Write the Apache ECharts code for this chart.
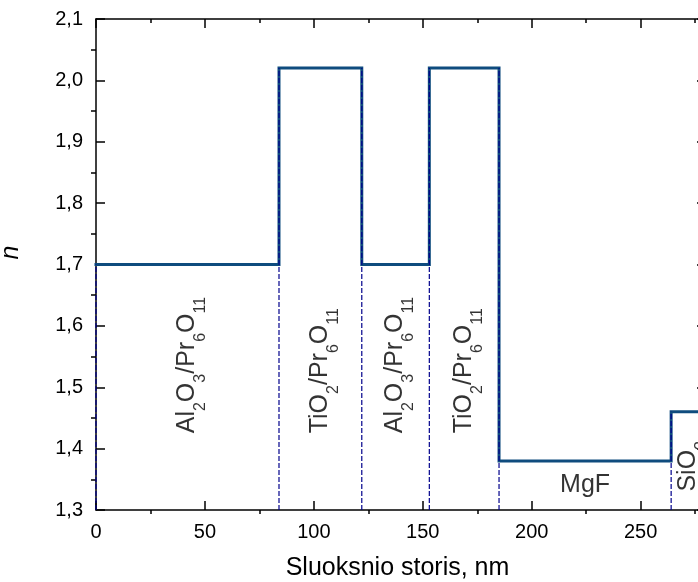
<!DOCTYPE html>
<html>
<head>
<meta charset="utf-8">
<script src="https://cdn.jsdelivr.net/npm/echarts@6/dist/echarts.min.js"></script>
<style>
  html, body { margin: 0; padding: 0; background: #fff; }
  #chart { width: 698px; height: 582px; }
</style>
</head>
<body>
<div id="chart"></div>
<script>
// Layer boundaries along the stack (nm) and refractive index of each layer
var boundaries = [0, 84, 122, 153, 185, 264, 280];
var levels = [1.70, 2.02, 1.70, 2.02, 1.38, 1.46];

// Layer captions (rich-text markup for subscripts)
var layerNames = [
  '{m|Al}{s|2}{m|O}{s|3}{m|/Pr}{s|6}{m|O}{s|11}',
  '{m|TiO}{s|2}{m|/Pr}{s|6}{m|O}{s|11}',
  '{m|Al}{s|2}{m|O}{s|3}{m|/Pr}{s|6}{m|O}{s|11}',
  '{m|TiO}{s|2}{m|/Pr}{s|6}{m|O}{s|11}',
  '{m|MgF}',
  '{m|SiO}{s|2}'
];
// Index level at which each caption starts, and whether it is written upright
var labelLevels = [1.425, 1.425, 1.425, 1.425, 1.34, 1.33];
var labelVertical = [true, true, true, true, false, true];

// Axis ticks
var xMajorTicks = [0, 50, 100, 150, 200, 250];
var xMinorTicks = [25, 75, 125, 175, 225, 275];
var yMajorTicks = [1.3, 1.4, 1.5, 1.6, 1.7, 1.8, 1.9, 2.0, 2.1];
var yMinorTicks = [1.35, 1.45, 1.55, 1.65, 1.75, 1.85, 1.95, 2.05];

(function () {
  var FONT = "'Liberation Sans', Arial, sans-serif";
  var LINE_COLOR = '#0f4c7e';
  var DASH_COLOR = '#00008b';
  var X_MIN = 0, X_MAX = 280, Y_MIN = 1.3, Y_MAX = 2.1;

  // Step profile points: each level holds from its boundary to the next one
  var stepData = [];
  for (var i = 0; i < levels.length; i++) stepData.push([boundaries[i], levels[i]]);
  stepData.push([boundaries[boundaries.length - 1], levels[levels.length - 1]]);

  // Dashed guides from the bottom axis up each interface
  var guideSeries = [];
  for (var j = 0; j < levels.length; j++) {
    var upper = j === 0 ? levels[0] : Math.max(levels[j - 1], levels[j]);
    guideSeries.push({
      type: 'line',
      data: [[boundaries[j], Y_MIN], [boundaries[j], upper]],
      symbol: 'none',
      silent: true,
      z: 5,
      lineStyle: { color: DASH_COLOR, width: 1.2, type: [5, 2] }
    });
  }

  // Caption anchors at layer centres
  var captionData = [];
  for (var k = 0; k < levels.length; k++) {
    var mid = (boundaries[k] + boundaries[k + 1]) / 2;
    var vertical = labelVertical[k];
    captionData.push({
      value: [mid, labelLevels[k]],
      label: {
        show: true,
        formatter: layerNames[k],
        position: 'inside',
        rotate: vertical ? 90 : 0,
        align: vertical ? 'left' : 'center',
        verticalAlign: 'middle'
      }
    });
  }

  var richStyles = {
    m: { fontFamily: FONT, fontSize: 25, color: '#000', lineHeight: 26, verticalAlign: 'top' },
    s: { fontFamily: FONT, fontSize: 16, color: '#000', lineHeight: 14, padding: [18, 0, 0, 0], verticalAlign: 'top' }
  };

  function tickStyle() { return { color: '#000', width: 1.5 }; }
  function xAxisBase(extra) {
    return Object.assign({
      type: 'value', min: X_MIN, max: X_MAX,
      splitLine: { show: false },
      axisLine: { show: true, onZero: false, lineStyle: { color: '#000', width: 1.5 } },
      axisLabel: { show: false }
    }, extra);
  }
  function yAxisBase(extra) {
    return Object.assign({
      type: 'value', min: Y_MIN, max: Y_MAX,
      splitLine: { show: false },
      axisLine: { show: true, onZero: false, lineStyle: { color: '#000', width: 1.5 } },
      axisLabel: { show: false }
    }, extra);
  }

  var option = {
    animation: false,
    backgroundColor: '#fff',
    grid: { left: 96, right: -8, top: 19, bottom: 72, containLabel: false, outerBoundsMode: 'none' },
    xAxis: [
      xAxisBase({
        position: 'bottom',
        name: 'Sluoksnio storis, nm',
        nameLocation: 'middle',
        nameGap: 46,
        nameTextStyle: { fontFamily: FONT, fontSize: 25, color: '#000', padding: [0, 7, 0, 0] },
        axisTick: { show: true, inside: true, length: 9, customValues: xMajorTicks, lineStyle: tickStyle() },
        axisLabel: { show: true, customValues: xMajorTicks, fontFamily: FONT, fontSize: 20, color: '#000', margin: 12 }
      }),
      xAxisBase({
        position: 'bottom',
        axisLine: { show: false },
        axisTick: { show: true, inside: false, length: 4, customValues: xMinorTicks, lineStyle: tickStyle() }
      }),
      xAxisBase({
        position: 'top',
        axisTick: { show: true, inside: true, length: 9, customValues: xMajorTicks, lineStyle: tickStyle() }
      }),
      xAxisBase({
        position: 'top',
        axisLine: { show: false },
        axisTick: { show: true, inside: true, length: 4, customValues: xMinorTicks, lineStyle: tickStyle() }
      })
    ],
    yAxis: [
      yAxisBase({
        position: 'left',
        name: 'n',
        nameLocation: 'middle',
        nameGap: 72,
        nameRotate: 90,
        nameTextStyle: { fontFamily: FONT, fontSize: 25, fontStyle: 'italic', color: '#000', padding: [0, 0, 0, 24] },
        axisTick: { show: true, inside: true, length: 9, customValues: yMajorTicks, lineStyle: tickStyle() },
        axisLabel: {
          show: true, customValues: yMajorTicks, fontFamily: FONT, fontSize: 20, color: '#000', margin: 13,
          formatter: function (v) { return v.toFixed(1).replace('.', ','); }
        }
      }),
      yAxisBase({
        position: 'left',
        axisLine: { show: false },
        axisTick: { show: true, inside: false, length: 5, customValues: yMinorTicks, lineStyle: tickStyle() }
      }),
      yAxisBase({
        position: 'right',
        axisTick: { show: true, inside: true, length: 9, customValues: yMajorTicks, lineStyle: tickStyle() }
      })
    ],
    series: [
      {
        type: 'line',
        step: 'end',
        data: stepData,
        symbol: 'none',
        silent: true,
        z: 3,
        lineStyle: { color: LINE_COLOR, width: 3, join: 'miter', cap: 'square' }
      }
    ].concat(guideSeries).concat([
      {
        type: 'scatter',
        data: captionData,
        symbolSize: 0,
        silent: true,
        z: 10,
        label: { show: true, rich: richStyles, color: '#000' }
      }
    ])
  };

  var chart = echarts.init(document.getElementById('chart'), null, { renderer: 'canvas' });
  chart.setOption(option);
})();
</script>
</body>
</html>
